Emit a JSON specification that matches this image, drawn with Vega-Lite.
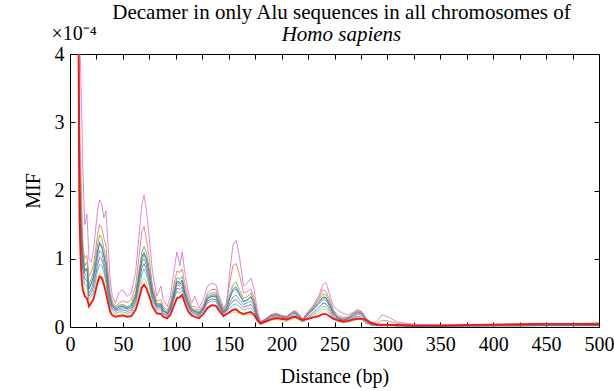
{
  "$schema": "https://vega.github.io/schema/vega-lite/v6.json",
  "width": 529,
  "height": 273,
  "autosize": {"type": "none"},
  "padding": {"left": 70, "top": 54, "right": 15, "bottom": 64},
  "background": "white",
  "title": {
    "text": "Decamer in only Alu sequences in all chromosomes of",
    "subtitle": "Homo sapiens",
    "font": "Liberation Serif",
    "fontSize": 21,
    "fontWeight": "normal",
    "color": "#000",
    "subtitleFont": "Liberation Serif",
    "subtitleFontSize": 21,
    "subtitleFontStyle": "italic",
    "subtitleColor": "#000",
    "subtitlePadding": 1,
    "anchor": "middle",
    "dx": 7,
    "offset": -22
  },
  "data": {
    "values": [
      {"d":8,"M":5.0,"O":4.8,"H":4.4,"P":4.0,"G":4.2,"C":4.0,"T":3.6,"L":3.2,"Y":2.7,"R":4.3},
      {"d":9,"M":4.2,"O":3.0,"H":2.6,"P":2.34,"G":2.4,"C":2.2,"T":2.0,"L":1.8,"Y":1.53,"R":1.6},
      {"d":10,"M":3.8,"O":2.5,"H":2.0,"P":1.8,"G":1.8,"C":1.6,"T":1.45,"L":1.3,"Y":1.1,"R":1.0},
      {"d":11,"M":3.2,"O":1.8,"H":1.5,"P":1.35,"G":1.35,"C":1.2,"T":1.1,"L":1.0,"Y":0.85,"R":0.7},
      {"d":12,"M":2.4,"O":1.3,"H":1.15,"P":1.04,"G":1.05,"C":0.95,"T":0.88,"L":0.8,"Y":0.68,"R":0.55},
      {"d":13,"M":1.9,"O":1.1,"H":1.0,"P":0.9,"G":0.93,"C":0.85,"T":0.78,"L":0.7,"Y":0.6,"R":0.5},
      {"d":14,"M":1.5,"O":1.0,"H":0.9,"P":0.81,"G":0.84,"C":0.78,"T":0.7,"L":0.62,"Y":0.53,"R":0.45},
      {"d":16,"M":1.65,"O":1.05,"H":0.95,"P":0.86,"G":0.85,"C":0.75,"T":0.68,"L":0.6,"Y":0.51,"R":0.42},
      {"d":18,"M":1.0,"O":0.75,"H":0.62,"P":0.56,"G":0.56,"C":0.5,"T":0.45,"L":0.4,"Y":0.34,"R":0.3},
      {"d":20,"M":0.95,"O":0.8,"H":0.7,"P":0.63,"G":0.63,"C":0.55,"T":0.5,"L":0.45,"Y":0.38,"R":0.35},
      {"d":22,"M":1.1,"O":0.9,"H":0.8,"P":0.72,"G":0.73,"C":0.65,"T":0.58,"L":0.5,"Y":0.43,"R":0.4},
      {"d":24,"M":1.4,"O":1.1,"H":1.0,"P":0.9,"G":0.91,"C":0.82,"T":0.74,"L":0.65,"Y":0.55,"R":0.52},
      {"d":26,"M":1.7,"O":1.35,"H":1.2,"P":1.08,"G":1.1,"C":1.0,"T":0.91,"L":0.82,"Y":0.7,"R":0.65},
      {"d":28,"M":1.86,"O":1.5,"H":1.35,"P":1.22,"G":1.24,"C":1.12,"T":1.02,"L":0.92,"Y":0.78,"R":0.74},
      {"d":30,"M":1.8,"O":1.45,"H":1.3,"P":1.17,"G":1.19,"C":1.08,"T":0.99,"L":0.9,"Y":0.77,"R":0.72},
      {"d":32,"M":1.6,"O":1.3,"H":1.15,"P":1.04,"G":1.05,"C":0.95,"T":0.88,"L":0.8,"Y":0.68,"R":0.62},
      {"d":34,"M":1.7,"O":1.2,"H":1.0,"P":0.9,"G":0.9,"C":0.8,"T":0.73,"L":0.65,"Y":0.55,"R":0.5},
      {"d":36,"M":1.2,"O":0.8,"H":0.7,"P":0.63,"G":0.63,"C":0.55,"T":0.5,"L":0.45,"Y":0.38,"R":0.35},
      {"d":38,"M":0.7,"O":0.5,"H":0.45,"P":0.41,"G":0.42,"C":0.38,"T":0.34,"L":0.3,"Y":0.26,"R":0.22},
      {"d":40,"M":0.45,"O":0.38,"H":0.34,"P":0.31,"G":0.32,"C":0.3,"T":0.27,"L":0.24,"Y":0.2,"R":0.17},
      {"d":43,"M":0.35,"O":0.3,"H":0.28,"P":0.25,"G":0.27,"C":0.25,"T":0.23,"L":0.2,"Y":0.17,"R":0.15},
      {"d":46,"M":0.5,"O":0.35,"H":0.32,"P":0.29,"G":0.3,"C":0.27,"T":0.25,"L":0.22,"Y":0.19,"R":0.16},
      {"d":50,"M":0.55,"O":0.38,"H":0.33,"P":0.3,"G":0.31,"C":0.28,"T":0.25,"L":0.22,"Y":0.19,"R":0.17},
      {"d":54,"M":0.45,"O":0.36,"H":0.3,"P":0.27,"G":0.28,"C":0.26,"T":0.23,"L":0.2,"Y":0.17,"R":0.15},
      {"d":58,"M":0.5,"O":0.4,"H":0.34,"P":0.31,"G":0.31,"C":0.28,"T":0.25,"L":0.22,"Y":0.19,"R":0.16},
      {"d":62,"M":0.8,"O":0.6,"H":0.5,"P":0.45,"G":0.46,"C":0.42,"T":0.38,"L":0.34,"Y":0.29,"R":0.25},
      {"d":65,"M":1.3,"O":1.0,"H":0.8,"P":0.72,"G":0.74,"C":0.68,"T":0.62,"L":0.55,"Y":0.47,"R":0.4},
      {"d":68,"M":1.8,"O":1.4,"H":1.1,"P":0.99,"G":1.03,"C":0.95,"T":0.87,"L":0.78,"Y":0.66,"R":0.58},
      {"d":70,"M":1.93,"O":1.47,"H":1.18,"P":1.06,"G":1.09,"C":1.0,"T":0.93,"L":0.85,"Y":0.72,"R":0.62},
      {"d":72,"M":1.75,"O":1.3,"H":1.1,"P":0.99,"G":1.01,"C":0.92,"T":0.85,"L":0.78,"Y":0.66,"R":0.57},
      {"d":75,"M":1.3,"O":1.0,"H":0.85,"P":0.77,"G":0.79,"C":0.72,"T":0.66,"L":0.6,"Y":0.51,"R":0.45},
      {"d":78,"M":0.8,"O":0.6,"H":0.55,"P":0.5,"G":0.51,"C":0.46,"T":0.42,"L":0.38,"Y":0.32,"R":0.3},
      {"d":82,"M":0.45,"O":0.38,"H":0.34,"P":0.31,"G":0.32,"C":0.3,"T":0.28,"L":0.25,"Y":0.21,"R":0.2},
      {"d":86,"M":0.6,"O":0.4,"H":0.35,"P":0.32,"G":0.33,"C":0.3,"T":0.28,"L":0.25,"Y":0.21,"R":0.19},
      {"d":88,"M":0.4,"O":0.3,"H":0.27,"P":0.24,"G":0.25,"C":0.23,"T":0.2,"L":0.18,"Y":0.15,"R":0.15},
      {"d":92,"M":0.3,"O":0.25,"H":0.22,"P":0.2,"G":0.2,"C":0.19,"T":0.17,"L":0.16,"Y":0.14,"R":0.13},
      {"d":95,"M":0.45,"O":0.35,"H":0.32,"P":0.29,"G":0.3,"C":0.28,"T":0.25,"L":0.23,"Y":0.2,"R":0.18},
      {"d":98,"M":0.8,"O":0.6,"H":0.52,"P":0.47,"G":0.48,"C":0.45,"T":0.41,"L":0.38,"Y":0.32,"R":0.3},
      {"d":101,"M":1.1,"O":0.82,"H":0.72,"P":0.65,"G":0.67,"C":0.62,"T":0.57,"L":0.52,"Y":0.44,"R":0.42},
      {"d":104,"M":0.9,"O":0.8,"H":0.7,"P":0.63,"G":0.65,"C":0.6,"T":0.55,"L":0.5,"Y":0.43,"R":0.44},
      {"d":106,"M":1.1,"O":0.85,"H":0.74,"P":0.67,"G":0.69,"C":0.64,"T":0.59,"L":0.54,"Y":0.46,"R":0.47},
      {"d":109,"M":0.75,"O":0.6,"H":0.52,"P":0.47,"G":0.49,"C":0.45,"T":0.42,"L":0.38,"Y":0.32,"R":0.33},
      {"d":112,"M":0.5,"O":0.42,"H":0.37,"P":0.33,"G":0.35,"C":0.32,"T":0.3,"L":0.27,"Y":0.23,"R":0.22},
      {"d":115,"M":0.35,"O":0.3,"H":0.27,"P":0.24,"G":0.26,"C":0.24,"T":0.22,"L":0.2,"Y":0.17,"R":0.17},
      {"d":118,"M":0.45,"O":0.3,"H":0.26,"P":0.23,"G":0.24,"C":0.22,"T":0.2,"L":0.18,"Y":0.15,"R":0.15},
      {"d":122,"M":0.28,"O":0.24,"H":0.22,"P":0.2,"G":0.2,"C":0.19,"T":0.17,"L":0.16,"Y":0.14,"R":0.13},
      {"d":126,"M":0.4,"O":0.32,"H":0.3,"P":0.27,"G":0.28,"C":0.27,"T":0.25,"L":0.23,"Y":0.2,"R":0.19},
      {"d":130,"M":0.6,"O":0.5,"H":0.46,"P":0.41,"G":0.43,"C":0.41,"T":0.38,"L":0.35,"Y":0.3,"R":0.28},
      {"d":134,"M":0.64,"O":0.55,"H":0.5,"P":0.45,"G":0.47,"C":0.45,"T":0.41,"L":0.38,"Y":0.32,"R":0.32},
      {"d":138,"M":0.62,"O":0.55,"H":0.5,"P":0.45,"G":0.47,"C":0.44,"T":0.4,"L":0.37,"Y":0.31,"R":0.31},
      {"d":141,"M":0.45,"O":0.42,"H":0.38,"P":0.34,"G":0.35,"C":0.33,"T":0.3,"L":0.28,"Y":0.24,"R":0.24},
      {"d":145,"M":0.28,"O":0.25,"H":0.23,"P":0.21,"G":0.22,"C":0.21,"T":0.2,"L":0.18,"Y":0.15,"R":0.16},
      {"d":148,"M":0.35,"O":0.35,"H":0.3,"P":0.27,"G":0.28,"C":0.26,"T":0.24,"L":0.22,"Y":0.19,"R":0.19},
      {"d":151,"M":0.8,"O":0.65,"H":0.48,"P":0.43,"G":0.42,"C":0.36,"T":0.32,"L":0.28,"Y":0.2,"R":0.22},
      {"d":154,"M":1.2,"O":0.9,"H":0.62,"P":0.56,"G":0.53,"C":0.44,"T":0.38,"L":0.32,"Y":0.21,"R":0.25},
      {"d":157,"M":1.27,"O":0.93,"H":0.66,"P":0.59,"G":0.56,"C":0.47,"T":0.4,"L":0.34,"Y":0.22,"R":0.26},
      {"d":160,"M":1.05,"O":0.78,"H":0.55,"P":0.5,"G":0.47,"C":0.4,"T":0.35,"L":0.3,"Y":0.2,"R":0.22},
      {"d":164,"M":0.6,"O":0.5,"H":0.42,"P":0.38,"G":0.37,"C":0.33,"T":0.29,"L":0.25,"Y":0.17,"R":0.19},
      {"d":168,"M":0.65,"O":0.52,"H":0.45,"P":0.4,"G":0.4,"C":0.36,"T":0.31,"L":0.27,"Y":0.18,"R":0.21},
      {"d":171,"M":0.72,"O":0.56,"H":0.5,"P":0.45,"G":0.44,"C":0.38,"T":0.33,"L":0.28,"Y":0.19,"R":0.22},
      {"d":174,"M":0.55,"O":0.42,"H":0.38,"P":0.34,"G":0.34,"C":0.3,"T":0.26,"L":0.22,"Y":0.16,"R":0.18},
      {"d":177,"M":0.25,"O":0.2,"H":0.17,"P":0.15,"G":0.16,"C":0.14,"T":0.12,"L":0.11,"Y":0.09,"R":0.1},
      {"d":180,"M":0.08,"O":0.07,"H":0.07,"P":0.06,"G":0.06,"C":0.06,"T":0.05,"L":0.05,"Y":0.04,"R":0.05},
      {"d":185,"M":0.12,"O":0.11,"H":0.12,"P":0.11,"G":0.11,"C":0.1,"T":0.09,"L":0.08,"Y":0.07,"R":0.08},
      {"d":190,"M":0.18,"O":0.16,"H":0.18,"P":0.16,"G":0.16,"C":0.15,"T":0.13,"L":0.12,"Y":0.1,"R":0.11},
      {"d":195,"M":0.2,"O":0.18,"H":0.2,"P":0.18,"G":0.18,"C":0.16,"T":0.14,"L":0.13,"Y":0.11,"R":0.13},
      {"d":200,"M":0.16,"O":0.15,"H":0.17,"P":0.15,"G":0.15,"C":0.14,"T":0.12,"L":0.11,"Y":0.09,"R":0.12},
      {"d":205,"M":0.15,"O":0.14,"H":0.16,"P":0.14,"G":0.14,"C":0.13,"T":0.11,"L":0.1,"Y":0.08,"R":0.11},
      {"d":210,"M":0.22,"O":0.2,"H":0.22,"P":0.2,"G":0.2,"C":0.17,"T":0.15,"L":0.14,"Y":0.12,"R":0.14},
      {"d":213,"M":0.24,"O":0.21,"H":0.23,"P":0.21,"G":0.2,"C":0.18,"T":0.16,"L":0.15,"Y":0.13,"R":0.15},
      {"d":217,"M":0.18,"O":0.16,"H":0.17,"P":0.15,"G":0.15,"C":0.14,"T":0.12,"L":0.11,"Y":0.09,"R":0.12},
      {"d":220,"M":0.12,"O":0.11,"H":0.11,"P":0.1,"G":0.1,"C":0.1,"T":0.09,"L":0.08,"Y":0.07,"R":0.1},
      {"d":225,"M":0.22,"O":0.2,"H":0.22,"P":0.2,"G":0.2,"C":0.18,"T":0.15,"L":0.13,"Y":0.11,"R":0.12},
      {"d":230,"M":0.32,"O":0.3,"H":0.3,"P":0.27,"G":0.27,"C":0.25,"T":0.21,"L":0.18,"Y":0.15,"R":0.14},
      {"d":235,"M":0.45,"O":0.42,"H":0.4,"P":0.36,"G":0.36,"C":0.33,"T":0.28,"L":0.24,"Y":0.2,"R":0.16},
      {"d":239,"M":0.62,"O":0.55,"H":0.48,"P":0.43,"G":0.44,"C":0.4,"T":0.35,"L":0.3,"Y":0.26,"R":0.19},
      {"d":242,"M":0.65,"O":0.52,"H":0.47,"P":0.42,"G":0.43,"C":0.39,"T":0.34,"L":0.29,"Y":0.25,"R":0.19},
      {"d":245,"M":0.5,"O":0.42,"H":0.38,"P":0.34,"G":0.34,"C":0.31,"T":0.27,"L":0.23,"Y":0.2,"R":0.16},
      {"d":249,"M":0.3,"O":0.25,"H":0.23,"P":0.21,"G":0.21,"C":0.19,"T":0.16,"L":0.14,"Y":0.12,"R":0.12},
      {"d":253,"M":0.25,"O":0.17,"H":0.15,"P":0.14,"G":0.13,"C":0.12,"T":0.1,"L":0.09,"Y":0.08,"R":0.1},
      {"d":258,"M":0.2,"O":0.14,"H":0.12,"P":0.11,"G":0.1,"C":0.09,"T":0.08,"L":0.07,"Y":0.06,"R":0.08},
      {"d":263,"M":0.18,"O":0.15,"H":0.14,"P":0.13,"G":0.12,"C":0.11,"T":0.09,"L":0.08,"Y":0.07,"R":0.09},
      {"d":268,"M":0.22,"O":0.2,"H":0.2,"P":0.18,"G":0.17,"C":0.15,"T":0.13,"L":0.11,"Y":0.09,"R":0.11},
      {"d":272,"M":0.26,"O":0.23,"H":0.24,"P":0.22,"G":0.21,"C":0.19,"T":0.16,"L":0.14,"Y":0.12,"R":0.12},
      {"d":276,"M":0.22,"O":0.2,"H":0.22,"P":0.2,"G":0.19,"C":0.17,"T":0.14,"L":0.12,"Y":0.1,"R":0.12},
      {"d":280,"M":0.12,"O":0.1,"H":0.12,"P":0.11,"G":0.1,"C":0.09,"T":0.07,"L":0.06,"Y":0.05,"R":0.1},
      {"d":285,"M":0.06,"O":0.05,"H":0.05,"P":0.045,"G":0.045,"C":0.04,"T":0.035,"L":0.03,"Y":0.025,"R":0.06},
      {"d":290,"M":0.08,"O":0.05,"H":0.04,"P":0.036,"G":0.035,"C":0.03,"T":0.025,"L":0.02,"Y":0.017,"R":0.04},
      {"d":295,"M":0.18,"O":0.1,"H":0.04,"P":0.036,"G":0.035,"C":0.03,"T":0.025,"L":0.02,"Y":0.017,"R":0.03},
      {"d":300,"M":0.15,"O":0.09,"H":0.04,"P":0.036,"G":0.035,"C":0.03,"T":0.025,"L":0.02,"Y":0.017,"R":0.03},
      {"d":310,"M":0.07,"O":0.05,"H":0.03,"P":0.027,"G":0.025,"C":0.02,"T":0.018,"L":0.015,"Y":0.013,"R":0.03},
      {"d":325,"M":0.04,"O":0.03,"H":0.02,"P":0.018,"G":0.018,"C":0.015,"T":0.012,"L":0.01,"Y":0.009,"R":0.02},
      {"d":350,"M":0.03,"O":0.025,"H":0.02,"P":0.018,"G":0.018,"C":0.015,"T":0.012,"L":0.01,"Y":0.009,"R":0.02},
      {"d":375,"M":0.03,"O":0.025,"H":0.025,"P":0.022,"G":0.022,"C":0.02,"T":0.015,"L":0.01,"Y":0.009,"R":0.03},
      {"d":400,"M":0.04,"O":0.03,"H":0.03,"P":0.027,"G":0.025,"C":0.02,"T":0.018,"L":0.015,"Y":0.013,"R":0.035},
      {"d":425,"M":0.04,"O":0.03,"H":0.035,"P":0.03,"G":0.03,"C":0.025,"T":0.02,"L":0.015,"Y":0.013,"R":0.04},
      {"d":450,"M":0.05,"O":0.035,"H":0.04,"P":0.036,"G":0.035,"C":0.03,"T":0.025,"L":0.02,"Y":0.017,"R":0.045},
      {"d":475,"M":0.05,"O":0.04,"H":0.05,"P":0.045,"G":0.04,"C":0.03,"T":0.025,"L":0.02,"Y":0.017,"R":0.045},
      {"d":500,"M":0.05,"O":0.04,"H":0.06,"P":0.054,"G":0.045,"C":0.03,"T":0.025,"L":0.02,"Y":0.017,"R":0.04}
    ]
  },
  "layer": [
    {
      "transform": [{"fold": ["Y","L","T","C","G","P","H","O","M"], "as": ["series", "mif"]}],
      "mark": {"type": "line", "strokeWidth": 0.9, "opacity": 0.85, "clip": true},
      "encoding": {
        "x": {
          "field": "d", "type": "quantitative",
          "scale": {"domain": [0, 500], "nice": false, "zero": false},
          "axis": {
            "orient": "bottom",
            "values": [0,25,50,75,100,125,150,175,200,225,250,275,300,325,350,375,400,425,450,475,500],
            "labelExpr": "datum.value % 50 === 0 ? datum.label : ''",
            "labelOverlap": false,
            "labelFlush": false,
            "tickSize": -5,
            "labelPadding": 12,
            "title": "Distance (bp)",
            "titlePadding": 12,
            "grid": false
          }
        },
        "y": {
          "field": "mif", "type": "quantitative",
          "scale": {"domain": [0, 4], "nice": false},
          "axis": {
            "orient": "left",
            "values": [0,1,2,3,4],
            "labelOverlap": false,
            "labelFlush": false,
            "tickSize": -5,
            "labelPadding": 11,
            "title": "MIF",
            "titlePadding": 11,
            "grid": false
          }
        },
        "color": {
          "field": "series", "type": "nominal",
          "scale": {
            "domain": ["Y","L","T","C","G","P","H","O","M"],
            "range": ["#d4c83a","#26b5c8","#8040b0","#1e9e9e","#3050d0","#707070","#4caf2a","#f0605a","#cc66cc"]
          },
          "legend": null
        }
      }
    },
    {
      "mark": {"type": "line", "color": "#ff1010", "strokeWidth": 1.8, "clip": true},
      "encoding": {
        "x": {
          "field": "d", "type": "quantitative",
          "scale": {"domain": [0, 500], "nice": false, "zero": false},
          "axis": {
            "orient": "top",
            "values": [0,25,50,75,100,125,150,175,200,225,250,275,300,325,350,375,400,425,450,475,500],
            "labels": false,
            "tickSize": -5,
            "title": "×10⁻⁴",
            "titleX": -19,
            "titleY": -15,
            "titleAngle": 0,
            "titleAlign": "left",
            "titleBaseline": "alphabetic",
            "grid": false
          }
        },
        "y": {
          "field": "R", "type": "quantitative",
          "scale": {"domain": [0, 4], "nice": false},
          "axis": {
            "orient": "right",
            "values": [1,2,3],
            "labels": false,
            "tickSize": -5,
            "title": null,
            "grid": false
          }
        }
      }
    }
  ],
  "resolve": {"axis": {"x": "independent", "y": "independent"}},
  "config": {
    "view": {"stroke": null},
    "axis": {
      "domainColor": "#000",
      "domainWidth": 1,
      "tickColor": "#000",
      "tickWidth": 1,
      "labelFont": "Liberation Serif",
      "labelFontSize": 20,
      "labelColor": "#000",
      "titleFont": "Liberation Serif",
      "titleFontSize": 20,
      "titleFontWeight": "normal",
      "titleColor": "#000"
    }
  }
}
